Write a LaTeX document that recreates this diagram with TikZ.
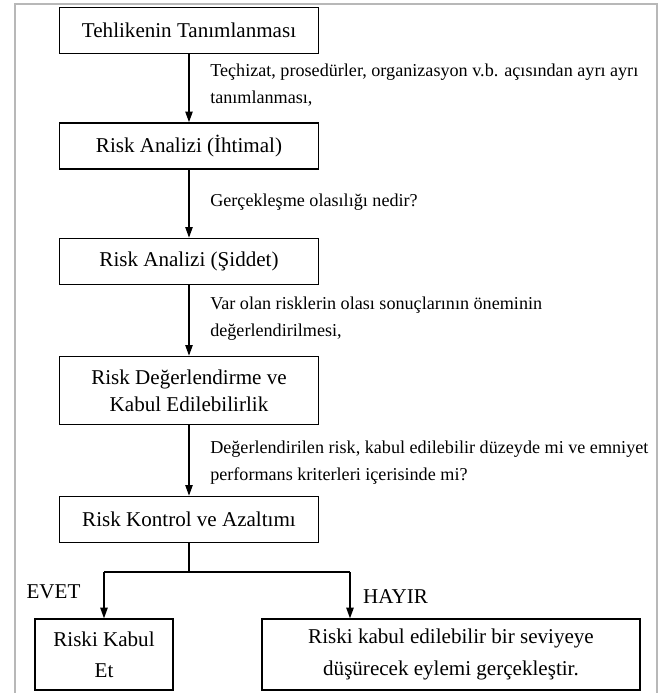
\documentclass[tikz,border=0pt]{standalone}
\usepackage{fontspec}
\setmainfont{Liberation Serif}
\usetikzlibrary{arrows.meta}
\begin{document}
\begin{tikzpicture}[x=0.75pt,y=-0.75pt,
  box/.style={draw, line width=1.2pt, minimum width=194.25pt, minimum height=34.5pt,
    align=center, inner sep=2pt, font=\fontsize{15.8}{20.5}\selectfont},
  lbl/.style={anchor=west, align=left, inner sep=0pt, font=\fontsize{13.6}{20}\selectfont},
  yn/.style={inner sep=0pt, font=\fontsize{15.8}{20}\selectfont},
  arr/.style={line width=1pt, -{Triangle[length=8pt,width=5.5pt]}},
  ln/.style={line width=1pt},
  frame/.style={draw=black!28, line width=1.3pt}]
\useasboundingbox (0,0) rectangle (668,693);
\draw[frame] (15,693) -- (15,4) -- (657,4) -- (657,693);

\node[box] (b1) at (189,30.5) {Tehlikenin Tanımlanması};
\node[box] (b2) at (189,146) {Risk Analizi (İhtimal)};
\node[box] (b3) at (189,261.5) {Risk Analizi (Şiddet)};
\node[box, minimum height=51pt, font=\fontsize{15.8}{20.25}\selectfont] (b4) at (189,390.5) {Risk Değerlendirme ve\\Kabul Edilebilirlik};
\node[box] (b5) at (189,519.5) {Risk Kontrol ve Azaltımı};
\node[box, minimum width=103.5pt, minimum height=53pt, font=\fontsize{15.8}{23.5}\selectfont] (b6) at (104,654.5) {Riski Kabul\\Et};
\node[box, minimum width=283.5pt, minimum height=53pt, font=\fontsize{15.8}{23.5}\selectfont] (b7) at (451,654.5) {Riski kabul edilebilir bir seviyeye\\düşürecek eylemi gerçekleştir.};

\node[lbl] (l1) at (210,85) {Teçhizat, prosedürler, organizasyon v.b. açısından ayrı ayrı\\tanımlanması,};
\node[lbl] (l2) at (210,202) {Gerçekleşme olasılığı nedir?};
\node[lbl] (l3) at (210,318.5) {Var olan risklerin olası sonuçlarının öneminin\\değerlendirilmesi,};
\node[lbl] (l4) at (210,462.5) {Değerlendirilen risk, kabul edilebilir düzeyde mi ve emniyet\\performans kriterleri içerisinde mi?};

\node[yn] (evet) at (53.5,592) {EVET};
\node[yn] (hayir) at (395.5,597) {HAYIR};

\draw[arr] (b1) -- (b2);
\draw[arr] (b2) -- (b3);
\draw[arr] (b3) -- (b4);
\draw[arr] (b4) -- (b5);

\coordinate (j) at (189,572);
\coordinate (jl) at (104,572);
\coordinate (jr) at (350,572);
\draw[ln] (b5) -- (j);
\draw[ln] (jl) -- (jr);
\draw[arr] (jl) -- (b6);
\draw[arr] (jr) -- (jr |- b7.north);
\end{tikzpicture}
\end{document}
